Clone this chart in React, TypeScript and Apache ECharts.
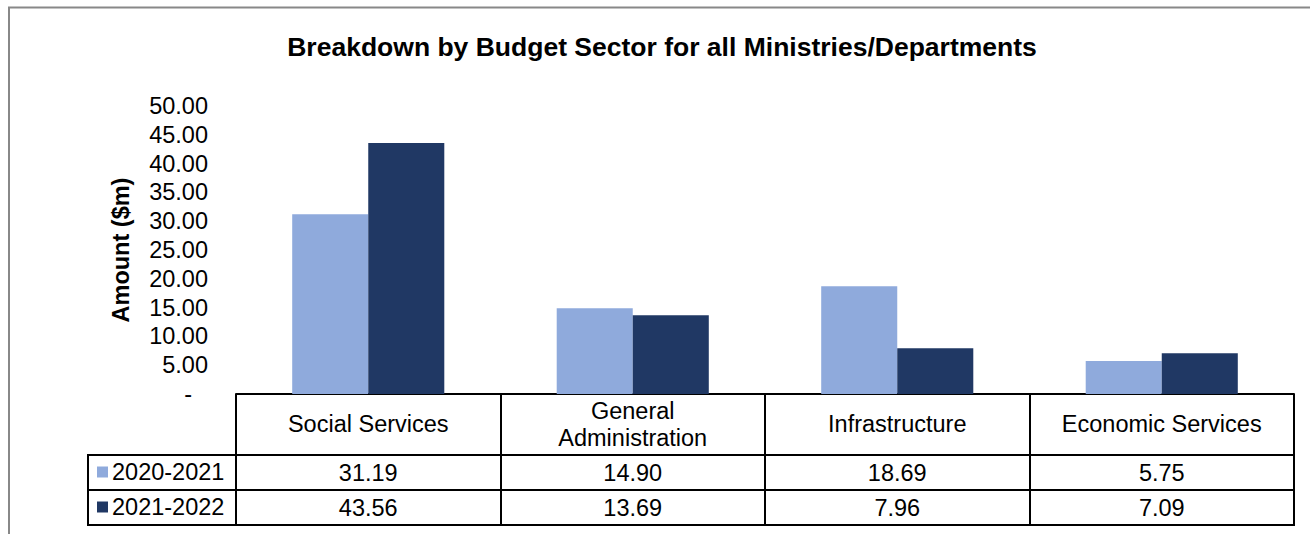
import React, { useEffect, useRef } from "react";
import * as echarts from "echarts";

const categories = ["Social Services", "General\nAdministration", "Infrastructure", "Economic Services"];
const seriesNames = ["2020-2021", "2021-2022"];
const values2020 = [31.19, 14.9, 18.69, 5.75];
const values2021 = [43.56, 13.69, 7.96, 7.09];
const colors = ["#8FAADC", "#203864"];

const FONT = "'Liberation Sans', Arial, sans-serif";
const FS = 23.5;

export default function App() {
  const ref = useRef<HTMLDivElement>(null);
  useEffect(() => {
    document.body.style.margin = "0";
    const chart = echarts.init(ref.current!, null, { renderer: "svg" });
    const gridLeft = 236;
    const gridRight = 1294;
    const axisY = 394;
    const row1 = 455;
    const row2 = 490;
    const row3 = 525;
    const legendLeft = 88;
    const lineStyle = { stroke: "#000", lineWidth: 2 };
    chart.setOption({
      animation: false,
      textStyle: { fontFamily: FONT },
      title: {
        text: "Breakdown by Budget Sector for all Ministries/Departments",
        left: 657,
        textAlign: "center",
        top: 28,
        textStyle: { fontSize: 26.5, fontWeight: "bold", color: "#000", fontFamily: FONT },
      },
      legend: {
        orient: "vertical",
        left: 97,
        top: 460,
        padding: 0,
        itemWidth: 11,
        itemHeight: 11,
        itemGap: 11,
        icon: "rect",
        data: seriesNames,
        textStyle: { fontSize: FS, color: "#000", fontFamily: FONT, lineHeight: 24, padding: [0, 0, 0, -1] },
      },
      grid: { left: gridLeft, right: 1310 - gridRight, top: 106, bottom: 534 - axisY, containLabel: false },
      xAxis: [
        {
          type: "category",
          data: categories,
          axisLine: { show: true, lineStyle: { color: "#000", width: 2 } },
          axisTick: { show: true, inside: false, length: row3 - axisY, lineStyle: { color: "#000", width: 2 } },
          axisLabel: {
            margin: 30,
            verticalAlign: "middle",
            fontSize: FS,
            lineHeight: 27,
            color: "#000",
            fontFamily: FONT,
            interval: 0,
          },
        },
        {
          type: "category",
          data: categories,
          position: "bottom",
          offset: row1 - axisY,
          axisLine: { show: false },
          axisTick: { show: false },
          axisLabel: {
            margin: 17.5,
            verticalAlign: "middle",
            fontSize: FS,
            color: "#000",
            fontFamily: FONT,
            interval: 0,
            formatter: (_v: string, i: number) => values2020[i].toFixed(2),
          },
        },
        {
          type: "category",
          data: categories,
          position: "bottom",
          offset: row2 - axisY,
          axisLine: { show: false },
          axisTick: { show: false },
          axisLabel: {
            margin: 17.5,
            verticalAlign: "middle",
            fontSize: FS,
            color: "#000",
            fontFamily: FONT,
            interval: 0,
            formatter: (_v: string, i: number) => values2021[i].toFixed(2),
          },
        },
      ],
      yAxis: {
        type: "value",
        min: 0,
        max: 50,
        interval: 5,
        name: "Amount ($m)",
        nameLocation: "middle",
        nameRotate: 90,
        nameGap: 103,
        nameTextStyle: { fontSize: FS, fontWeight: "bold", color: "#000", fontFamily: FONT },
        axisLine: { show: false },
        axisTick: { show: false },
        splitLine: { show: false },
        axisLabel: {
          margin: 28,
          fontSize: FS,
          color: "#000",
          fontFamily: FONT,
          formatter: (v: number) => (v === 0 ? "{d|-}" : v.toFixed(2)),
          rich: { d: { fontSize: FS, color: "#000", fontFamily: FONT, padding: [0, 16, 0, 0] } },
        },
      },
      series: [
        {
          name: seriesNames[0],
          type: "bar",
          data: values2020,
          itemStyle: { color: colors[0] },
          barGap: "0%",
          barCategoryGap: "42.5%",
        },
        {
          name: seriesNames[1],
          type: "bar",
          data: values2021,
          itemStyle: { color: colors[1] },
          barGap: "0%",
          barCategoryGap: "42.5%",
        },
      ],
      graphic: [
        {
          type: "polyline",
          shape: { points: [[9, 534], [9, 7.5], [1310, 7.5]] },
          style: { stroke: "#888", lineWidth: 2, fill: null },
          silent: true,
        },
        { type: "line", shape: { x1: legendLeft, y1: row1, x2: gridRight + 1, y2: row1 }, style: lineStyle, silent: true },
        { type: "line", shape: { x1: legendLeft, y1: row2, x2: gridRight + 1, y2: row2 }, style: lineStyle, silent: true },
        { type: "line", shape: { x1: legendLeft, y1: row3, x2: gridRight + 1, y2: row3 }, style: lineStyle, silent: true },
        { type: "line", shape: { x1: legendLeft, y1: row1 - 1, x2: legendLeft, y2: row3 + 1 }, style: lineStyle, silent: true },
      ],
    });
    return () => chart.dispose();
  }, []);
  return <div ref={ref} style={{ width: 1310, height: 534 }} />;
}
